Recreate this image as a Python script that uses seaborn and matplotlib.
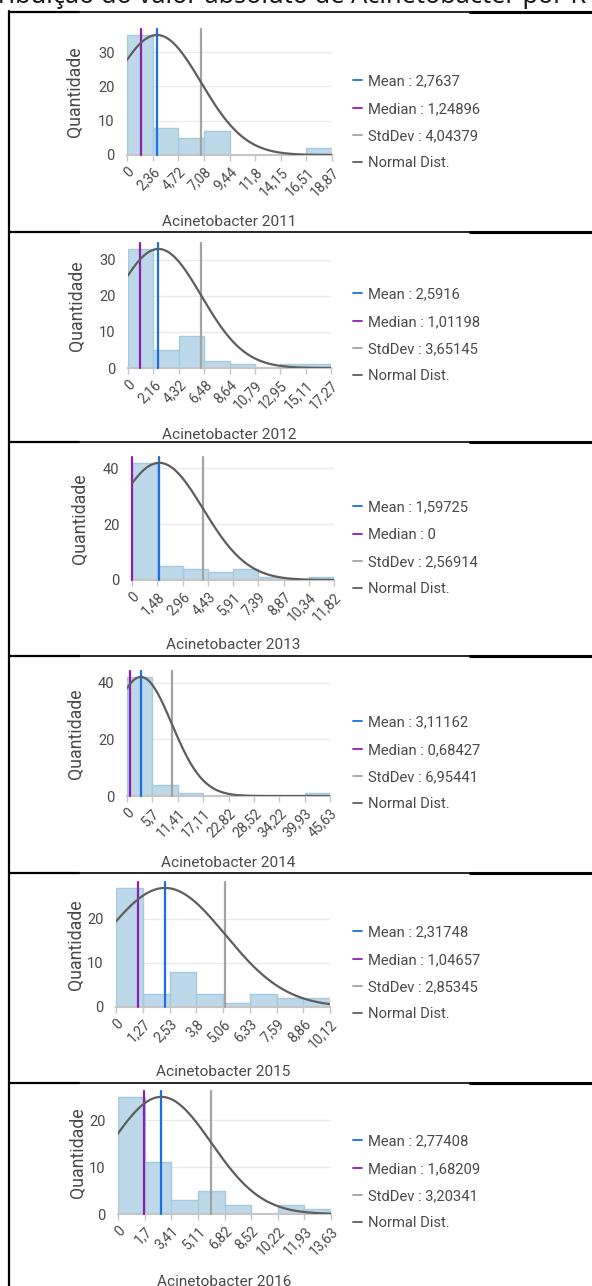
import numpy as np
import pandas as pd
import matplotlib
matplotlib.use("Agg")
import matplotlib.pyplot as plt
import seaborn as sns
from matplotlib.lines import Line2D

# data
years = [2011, 2012, 2013, 2014, 2015, 2016]
edges_2011 = [0, 2.36, 4.72, 7.08, 9.44, 11.8, 14.15, 16.51, 18.87]
edges_2012 = [0, 2.16, 4.32, 6.48, 8.64, 10.79, 12.95, 15.11, 17.27]
edges_2013 = [0, 1.48, 2.96, 4.43, 5.91, 7.39, 8.87, 10.34, 11.82]
edges_2014 = [0, 5.7, 11.41, 17.11, 22.82, 28.52, 34.22, 39.93, 45.63]
edges_2015 = [0, 1.27, 2.53, 3.8, 5.06, 6.33, 7.59, 8.86, 10.12]
edges_2016 = [0, 1.7, 3.41, 5.11, 6.82, 8.52, 10.22, 11.93, 13.63]
counts_2011 = [35, 8, 5, 7, 0, 0, 0, 2]
counts_2012 = [33, 5, 9, 2, 1, 0, 1, 1]
counts_2013 = [42, 5, 4, 3, 4, 1, 0, 1]
counts_2014 = [42, 4, 1, 0, 0, 0, 0, 1]
counts_2015 = [27, 3, 8, 3, 1, 3, 2, 2]
counts_2016 = [25, 11, 3, 5, 2, 0, 2, 1]
means = [2.7637, 2.5916, 1.59725, 3.11162, 2.31748, 2.77408]
medians = [1.24896, 1.01198, 0, 0.68427, 1.04657, 1.68209]
stddevs = [4.04379, 3.65145, 2.56914, 6.95441, 2.85345, 3.20341]
yticks_list = [[0, 10, 20, 30], [0, 10, 20, 30], [0, 20, 40],
               [0, 20, 40], [0, 10, 20], [0, 10, 20]]

edges_all = [edges_2011, edges_2012, edges_2013, edges_2014, edges_2015, edges_2016]
counts_all = [counts_2011, counts_2012, counts_2013, counts_2014, counts_2015, counts_2016]

# layout in pixels: left, right, top, bottom, first legend row y, title y, ylabel x
panel_px = [
    (127, 332, 29, 155, 82, 222, 75),
    (128, 331, 243, 368, 295, 435, 77),
    (132, 334, 457, 580, 508, 645, 80),
    (127, 330, 671, 796, 723, 863, 76),
    (116, 330, 882, 1007, 933, 1072, 76),
    (118, 331, 1091, 1214, 1142, 1282, 78),
]
borders_y = [12, 232, 442, 656, 873, 1083]

W, H = 592, 1286
BAR = "#bdd8e8"
BAR_EDGE = "#a5cbe0"
C_MEAN = "#1a6fe6"
C_MED = "#8c1fb0"
C_STD = "#a3a3a3"
C_NORM = "#5e5e5e"
TXT = "#4a4a4a"


def fmt(v):
    return f"{v:g}".replace(".", ",")


sns.set_theme(style="white")
plt.rcParams["font.family"] = ["Roboto", "DejaVu Sans"]

fig = plt.figure(figsize=(W / 100, H / 100), dpi=100)
fig.patch.set_facecolor("white")

for i, year in enumerate(years):
    edges = np.array(edges_all[i], dtype=float)
    counts = np.array(counts_all[i], dtype=float)
    l, r, t, b, leg_y, tit_y, yl_x = panel_px[i]
    ax = fig.add_axes([l / W, 1 - b / H, (r - l) / W, (b - t) / H])

    df = pd.DataFrame({"valor": (edges[:-1] + edges[1:]) / 2, "n": counts})
    sns.histplot(data=df, x="valor", weights="n", bins=list(edges), ax=ax,
                 color=BAR, edgecolor=BAR_EDGE, linewidth=1, alpha=1)

    mu, sd, top = means[i], stddevs[i], counts.max()
    xs = np.linspace(edges[0], edges[-1], 300)
    ys = top * np.exp(-0.5 * ((xs - mu) / sd) ** 2)

    ax.axvline(medians[i], color=C_MED, lw=1.6, zorder=3, clip_on=False)
    ax.axvline(mu, color=C_MEAN, lw=1.6, zorder=3, clip_on=False)
    ax.axvline(mu + sd, color=C_STD, lw=1.6, zorder=3, clip_on=False)
    ax.plot(xs, ys, color=C_NORM, lw=1.6, zorder=4)

    ax.set_xlim(edges[0], edges[-1])
    ax.set_ylim(0, top * 1.05)
    ax.set_xticks(edges)
    ax.set_xticklabels([fmt(v) for v in edges], rotation=45, ha="right",
                       rotation_mode="anchor")
    ax.set_yticks(yticks_list[i])
    ax.set_yticklabels([str(v) for v in yticks_list[i]])
    ax.set_axisbelow(True)
    ax.yaxis.grid(True, color="#ebebeb", lw=1)
    ax.xaxis.grid(False)
    for s in ["top", "right", "left"]:
        ax.spines[s].set_visible(False)
    ax.spines["bottom"].set_color("#c6c6c6")
    ax.spines["bottom"].set_linewidth(1.5)
    ax.tick_params(axis="x", bottom=True, length=4, width=1, color="#c6c6c6",
                   labelsize=10, labelcolor=TXT, pad=3)
    ax.tick_params(axis="y", left=False, length=0, labelsize=10.5,
                   labelcolor=TXT, pad=9)

    ax.set_ylabel("Quantidade", fontsize=12.8, color=TXT, va="center")
    ax.yaxis.set_label_coords((yl_x - l) / (r - l), 0.5)
    ax.set_xlabel(f"Acinetobacter {year}", fontsize=11.1, color=TXT, va="center")
    ax.xaxis.set_label_coords(0.5, (b - tit_y) / (b - t))

    handles = [Line2D([], [], color=C_MEAN, lw=1.3),
               Line2D([], [], color=C_MED, lw=1.3),
               Line2D([], [], color=C_STD, lw=1.3),
               Line2D([], [], color=C_NORM, lw=1.3)]
    labels = [f"Mean : {fmt(mu)}", f"Median : {fmt(medians[i])}",
              f"StdDev : {fmt(sd)}", "Normal Dist."]
    leg = ax.legend(handles, labels, loc="center left",
                    bbox_to_anchor=(353 / W, 1 - (leg_y + 1.5 * 27) / H),
                    bbox_transform=fig.transFigure, frameon=False,
                    fontsize=10.6, handlelength=0.6, handletextpad=0.4,
                    labelspacing=0.9, borderpad=0, borderaxespad=0)
    for txt in leg.get_texts():
        txt.set_color(TXT)

# table borders of the document page
for y in borders_y:
    fig.add_artist(Line2D([9 / W, 1], [1 - y / H] * 2, color="black", lw=1.2))
    fig.add_artist(Line2D([470 / W, 1], [1 - y / H] * 2, color="black", lw=2.2))
    fig.add_artist(Line2D([9 / W, 79 / W], [1 - y / H] * 2, color="black", lw=1.6))
fig.add_artist(Line2D([9 / W] * 2, [1 - 11 / H, 0], color="black", lw=1.6))

fig.text(-2 / W, 1 - 3 / H, "ribuição do valor absoluto de Acinetobacter por R",
         fontsize=18.2, va="baseline", ha="left", color="#1a1a1a",
         family=["Noto Sans", "DejaVu Sans"])

fig.savefig("out.png", dpi=100, facecolor="white")
